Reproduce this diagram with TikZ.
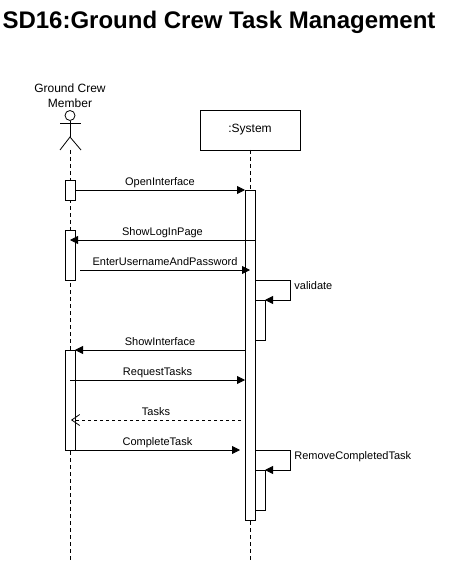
\documentclass[tikz,border=0pt]{standalone}
\usepackage{fontspec}
\setmainfont{Liberation Sans}
\usetikzlibrary{arrows.meta}

\tikzset{
  lifeline/.style={draw, dashed, dash pattern=on 4pt off 3pt},
  actbox/.style={draw, fill=white, minimum width=10pt, inner sep=0pt, outer sep=0pt},
  msg/.style={draw, -{Triangle[length=8pt,width=8pt]}},
  reply/.style={draw, dashed, dash pattern=on 3pt off 3pt, -{Straight Barb[length=8pt,width=11pt]}},
  msglabel/.style={font=\fontsize{11}{12}\selectfont, above, inner sep=2pt, text height=8pt, text depth=2.5pt},
  selflabel/.style={font=\fontsize{11}{12}\selectfont, anchor=north west, inner sep=0pt, xshift=4pt, yshift=-1pt},
}

\begin{document}
\begin{tikzpicture}[x=1pt,y=-1pt,line width=0.8pt]

        \useasboundingbox (0,0) rectangle (450,561);

        \node[font=\bfseries\fontsize{24}{28}\selectfont, inner sep=0pt] (title) at (219,22) {SD16:Ground Crew Task Management};

        % actor and system heads
        \node[font=\fontsize{12}{15}\selectfont, align=center, inner sep=0pt] (crewname) at (70,96) {Ground Crew\\Member};
        \node[draw, circle, minimum size=10pt, inner sep=0pt] (head) at (70,115.5) {};
        \coordinate (hip)   at (70,137);
        \coordinate (feet)  at (70,150);
        \coordinate (armL)  at (60,123);
        \coordinate (armR)  at (81,123);
        \coordinate (legL)  at (60,150);
        \coordinate (legR)  at (81,150);
        \node[draw, minimum width=100pt, minimum height=40pt, inner sep=0pt, outer sep=0pt, font=\fontsize{12}{14}\selectfont] (system) at (250,130) {:System};

        \draw (head) -- (hip);
        \draw (armL) -- (armR);
        \draw (legL) -- (hip) -- (legR);

        % lifelines
        \coordinate (crewend) at (70,561);
        \coordinate (sysend)  at (250,561);
        \path[lifeline] (feet) -- (crewend);
        \path[lifeline] (system.south) -- (sysend);

        % activations
        \begin{scope}[every node/.style={actbox}]
          \node[minimum height=20pt]  (crew1) at (70,190)  {};
          \node[minimum height=50pt]  (crew2) at (70,255)  {};
          \node[minimum height=100pt] (crew3) at (70,400)  {};
          \node[minimum height=330pt] (sys)   at (250,355) {};
          \node[minimum height=40pt]  (val)   at (260,320) {};
          \node[minimum height=40pt]  (rem)   at (260,490) {};
        \end{scope}

        % free ends of the messages
        \coordinate (a1) at (75,190);
        \coordinate (b1) at (245,190);
        \coordinate (a2) at (255,240);
        \coordinate (b2) at (70,240);
        \coordinate (a3) at (80,270);
        \coordinate (b3) at (250,270);
        \coordinate (a4) at (255,280);
        \coordinate (c4) at (290,280);
        \coordinate (d4) at (290,300);
        \coordinate (a5) at (245,350);
        \coordinate (b5) at (75,350);
        \coordinate (a6) at (70,380);
        \coordinate (b6) at (245,380);
        \coordinate (a7) at (241,420);
        \coordinate (b7) at (71,420);
        \coordinate (a8) at (75,450);
        \coordinate (b8) at (240,450);
        \coordinate (a9) at (255,450);
        \coordinate (c9) at (290,450);
        \coordinate (d9) at (290,470);

        \path[msg] (a1) -- node[msglabel] {OpenInterface} (b1);
        \path[msg] (a2) -- node[msglabel] {ShowLogInPage} (b2);
        \path[msg] (a3) -- node[msglabel] {EnterUsernameAndPassword} (b3);
        \path[msg] (a4) -- (c4) node[selflabel] {validate} -- (d4) -- (val.north east);
        \path[msg] (a5) -- node[msglabel] {ShowInterface} (b5);
        \path[msg] (a6) -- node[msglabel] {RequestTasks} (b6);
        \path[reply] (a7) -- node[msglabel] {Tasks} (b7);
        \path[msg] (a8) -- node[msglabel] {CompleteTask} (b8);
        \path[msg] (a9) -- (c9) node[selflabel] {RemoveCompletedTask} -- (d9) -- (rem.north east);

      \end{tikzpicture}
\end{document}
